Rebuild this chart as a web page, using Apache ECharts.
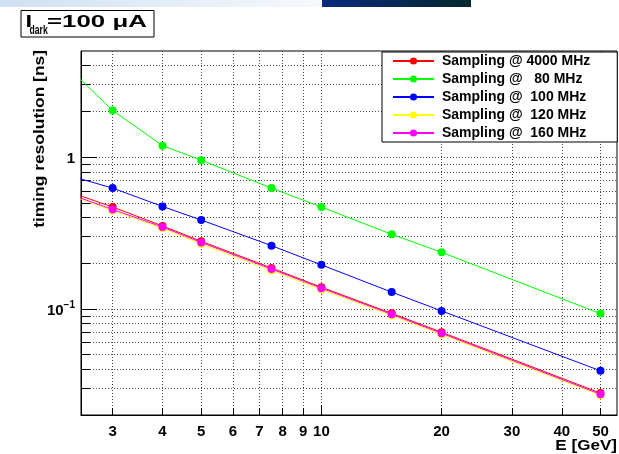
<!DOCTYPE html>
<html>
<head>
<meta charset="utf-8">
<script src="https://cdn.jsdelivr.net/npm/echarts@6/dist/echarts.min.js"></script>
<style>html,body{margin:0;padding:0;background:#fff;}#c{width:619px;height:454px;}</style>
</head>
<body>
<div id="c"></div>
<script>
// ---- data ----
const energies = [2, 3, 4, 5, 7.5, 10, 15, 20, 50];
const seriesNames = ['Sampling @ 4000 MHz', 'Sampling @   80 MHz', 'Sampling @  100 MHz', 'Sampling @  120 MHz', 'Sampling @  160 MHz'];
const res4000 = [0.68, 0.469, 0.352, 0.279, 0.186, 0.139, 0.0935, 0.0702, 0.0279];
const res80   = [5.7, 2.03, 1.19, 0.955, 0.625, 0.469, 0.31, 0.236, 0.0931];
const res100  = [0.849, 0.625, 0.473, 0.385, 0.261, 0.195, 0.129, 0.097, 0.0391];
const res120  = [0.655, 0.445, 0.340, 0.268, 0.179, 0.134, 0.0905, 0.0679, 0.0270];
const res160  = [0.66, 0.452, 0.346, 0.274, 0.183, 0.137, 0.0921, 0.0691, 0.0274];
const xTickVals = [3, 4, 5, 6, 7, 8, 9, 10, 20, 30, 40, 50];
const xMajorTicks = [10];
const yTickVals = [0.03, 0.04, 0.05, 0.06, 0.07, 0.08, 0.09, 0.1, 0.2, 0.3, 0.4, 0.5, 0.6, 0.7, 0.8, 0.9, 1, 2, 3, 4];
const yMajorTicks = [0.1, 1];
const yLabelVals = [0.1, 1];
const colors = ['#ff0000', '#00ff00', '#0000ff', '#ffff00', '#ff00ff'];
const allSeries = [res4000, res80, res100, res120, res160];

const FONT = '"Liberation Sans", Arial, Helvetica, sans-serif';
const chart = echarts.init(document.getElementById('c'), null, {renderer: 'canvas'});

const gridLine = {show: true, lineStyle: {color: '#444', width: 1, type: [1, 2]}};

const option = {
  animation: false,
  backgroundColor: '#fff',
  grid: {left: 81, top: 51, right: 2, bottom: 39, show: true, borderColor: '#000', borderWidth: 1,
         containLabel: false, outerBoundsMode: 'none'},
  legend: {
    orient: 'vertical', left: 382, top: 52,
    padding: [0, 27, 0, 10],
    borderColor: '#000', borderWidth: 1, backgroundColor: '#fff', borderRadius: 0,
    itemWidth: 41, itemHeight: 9, itemGap: 0, selectedMode: false,
    textStyle: {fontFamily: FONT, fontWeight: 'bold', fontSize: 14, color: '#000', lineHeight: 18, padding: [0, 0, 0, 3]},
    data: seriesNames
  },
  xAxis: [
    {type: 'log', logBase: 10, min: 2.5, max: 55, position: 'bottom',
     axisLine: {show: true, lineStyle: {color: '#000', width: 1}},
     axisTick: {show: true, inside: true, length: 7, customValues: xTickVals, lineStyle: {color: '#000'}},
     axisLabel: {show: true, customValues: xTickVals, margin: 9, color: '#000', fontFamily: FONT, fontWeight: 'bold', fontSize: 15},
     splitLine: gridLine, minorTick: {show: false}, minorSplitLine: {show: false}},
    {type: 'log', logBase: 10, min: 2.5, max: 55, position: 'bottom', offset: 0,
     axisLine: {show: false},
     axisTick: {show: true, inside: true, length: 10, customValues: xMajorTicks, lineStyle: {color: '#000'}},
     axisLabel: {show: false}, splitLine: {show: false}}
  ],
  yAxis: [
    {type: 'log', logBase: 10, min: 0.02, max: 5, position: 'left',
     axisLine: {show: true, lineStyle: {color: '#000', width: 1}},
     axisTick: {show: true, inside: true, length: 9, customValues: yTickVals, lineStyle: {color: '#000'}},
     axisLabel: {show: true, customValues: yLabelVals, margin: 6, color: '#000',
       formatter: function (v) { return (v > 0.5 ? '{b|1}' : '{b|10}{s|\u22121}'); },
       rich: {
         b: {fontFamily: FONT, fontWeight: 'bold', fontSize: 15, color: '#000', lineHeight: 18, verticalAlign: 'bottom'},
         s: {fontFamily: FONT, fontWeight: 'bold', fontSize: 10, color: '#000', lineHeight: 12, verticalAlign: 'top'}
       }},
     splitLine: gridLine, minorTick: {show: false}, minorSplitLine: {show: false}},
    {type: 'log', logBase: 10, min: 0.02, max: 5, position: 'left', offset: 0,
     axisLine: {show: false},
     axisTick: {show: true, inside: true, length: 16, customValues: yMajorTicks, lineStyle: {color: '#000'}},
     axisLabel: {show: false}, splitLine: {show: false}}
  ],
  series: seriesNames.map(function (name, k) {
    return {
      name: name, type: 'line', xAxisIndex: 0, yAxisIndex: 0,
      data: energies.map(function (e, i) { return [e, allSeries[k][i]]; }),
      symbol: 'circle', symbolSize: 8, showSymbol: true, clip: true,
      lineStyle: {color: colors[k], width: 1},
      itemStyle: {color: colors[k]},
      emphasis: {disabled: true},
      z: 2 + k
    };
  }),
  graphic: [
    {type: 'rect', left: 0, top: 0, silent: true, shape: {width: 322, height: 7},
     style: {fill: new echarts.graphic.LinearGradient(0, 0, 1, 0, [{offset: 0, color: '#cfe0f2'}, {offset: 1, color: '#f6f9fd'}])}},
    {type: 'rect', left: 322, top: 0, silent: true, shape: {width: 149, height: 7},
     style: {fill: new echarts.graphic.LinearGradient(0, 0, 1, 0, [{offset: 0, color: '#0a2a80'}, {offset: 1, color: '#03282b'}])}},
    {type: 'rect', silent: true, shape: {x: 21, y: 10.5, width: 133, height: 26.5},
     style: {fill: '#fff', stroke: '#000', lineWidth: 1}},
    {type: 'text', silent: true, x: 25.5, y: 22.2, scaleX: 1.4,
     style: {text: 'I', font: 'bold 17px ' + FONT, fill: '#000', align: 'left', verticalAlign: 'middle'}},
    {type: 'text', silent: true, x: 29.5, y: 31, scaleX: 0.72,
     style: {text: 'dark', font: 'bold 12px ' + FONT, fill: '#000', align: 'left', verticalAlign: 'middle'}},
    {type: 'text', silent: true, x: 47, y: 22.2, scaleX: 1.52,
     style: {text: '=100 \u03bcA', font: 'bold 17px ' + FONT, fill: '#000', align: 'left', verticalAlign: 'middle'}},
    {type: 'text', silent: true, x: 39.5, y: 50, rotation: Math.PI / 2, scaleX: 1.16,
     style: {text: 'timing resolution [ns]', font: 'bold 15px ' + FONT, fill: '#000', align: 'right', verticalAlign: 'middle'}},
    {type: 'text', silent: true, x: 617, y: 446, scaleX: 1.22,
     style: {text: 'E [GeV]', font: 'bold 14px ' + FONT, fill: '#000', align: 'right', verticalAlign: 'middle'}}
  ]
};
chart.setOption(option);
</script>
</body>
</html>
